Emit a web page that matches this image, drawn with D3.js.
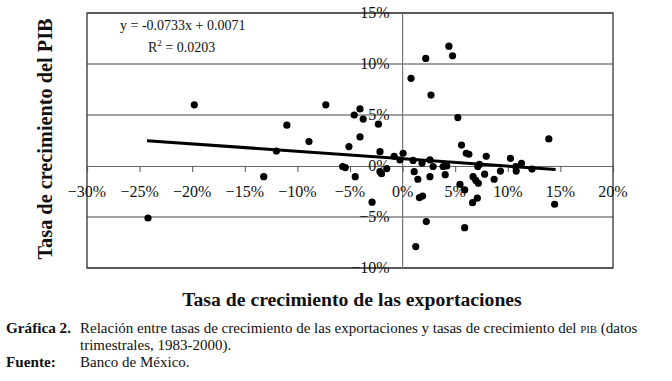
<!DOCTYPE html>
<html>
<head>
<meta charset="utf-8">
<script src="https://cdn.jsdelivr.net/npm/d3@7"></script>
<style>
body{margin:0;background:#fff;}
svg text{font-family:"Liberation Serif","Times New Roman",serif;fill:#111;}
</style>
</head>
<body>
<div id="chart"></div>
<script>
// quarterly growth rates (fractions)
var exportGrowth = [-0.242,-0.198,-0.132,-0.120,-0.110,-0.089,-0.073,-0.057,-0.0545,-0.051,
	-0.046,-0.045,-0.0405,-0.0405,-0.0375,-0.029,-0.023,-0.0215,-0.0215,-0.020,
	-0.015,-0.008,-0.0025,0.0005,0.008,0.010,0.011,0.0125,0.0145,0.016,
	0.0185,0.019,0.022,0.0225,0.026,0.026,0.027,0.029,0.0385,0.0405,
	0.042,0.044,0.0475,0.0525,0.0545,0.056,0.059,0.059,0.0605,0.063,
	0.0665,0.067,0.0695,0.071,0.0715,0.072,0.073,0.078,0.0795,0.087,
	0.093,0.1025,0.1075,0.108,0.113,0.123,0.139,0.1445]
var gdpGrowth = [-0.051,0.060,-0.0105,0.0147,0.040,0.024,0.060,-0.0005,-0.0015,0.019,
	0.050,-0.0105,0.056,0.0285,0.046,-0.0355,0.041,0.014,-0.0056,-0.0075,
	-0.0025,0.0095,0.006,0.0125,0.086,0.0055,-0.0056,-0.079,-0.013,-0.031,
	0.003,-0.0295,0.1055,-0.0545,0.006,-0.0105,0.0695,-0.0005,-0.0005,-0.0085,
	0.000,0.1175,0.108,0.0475,-0.018,0.0205,-0.0235,-0.0605,0.0125,0.0115,
	-0.036,-0.0105,-0.014,-0.0315,-0.0005,-0.017,0.0015,-0.008,0.0095,-0.013,
	-0.005,0.0075,-0.0005,-0.005,0.0025,-0.003,0.0265,-0.0375]

var xTicks = [-0.30,-0.25,-0.20,-0.15,-0.10,-0.05,0,0.05,0.10,0.15,0.20]
var yTicks = [-0.10,-0.05,0,0.05,0.10,0.15]

// linear trend printed on the chart
var trendSlope = -0.0733
var trendIntercept = 0.0071
var trendLabels = ["y = -0.0733x + 0.0071","0.0203"]

var captionLines = ["Relación entre tasas de crecimiento de las exportaciones y tasas de crecimiento del ", "trimestrales, 1983-2000).", "Banco de México."]

var width = 672,
	height = 381;

var xScale = d3.scaleLinear()
				.domain([-0.30,0.20])
				.range([87,613])

var yScale = d3.scaleLinear()
				.domain([-0.10,0.15])
				.range([268,13])

var pct = d3.format(".0%")

var svg = d3.select("#chart").append("svg")
			.attr("width",width)
			.attr("height",height)

// horizontal gridlines
svg.selectAll(".grid")
	.data(yTicks.filter(function(d){return d != 0}))
	.enter().append("line")
	.attr("x1",xScale(-0.30))
	.attr("x2",xScale(0.20))
	.attr("y1",function(d){return yScale(d)})
	.attr("y2",function(d){return yScale(d)})
	.attr("stroke","#444")
	.attr("stroke-width",1)

// plot frame
svg.append("rect")
	.attr("x",xScale(-0.30))
	.attr("y",yScale(0.15))
	.attr("width",xScale(0.20)-xScale(-0.30))
	.attr("height",yScale(-0.10)-yScale(0.15))
	.attr("fill","none")
	.attr("stroke","#333")
	.attr("stroke-width",1.3)

// axes crossing at zero
svg.append("line")
	.attr("x1",xScale(0)).attr("x2",xScale(0))
	.attr("y1",yScale(0.15)).attr("y2",yScale(-0.10))
	.attr("stroke","#777")
	.attr("stroke-width",1.2)

var xAxis = d3.axisBottom(xScale)
	.tickValues(xTicks)
	.tickSize(6)
	.tickFormat("")

svg.append("g")
	.attr("transform","translate(0,"+yScale(0)+")")
	.call(xAxis)
	.call(function(g){
		g.select(".domain").attr("stroke","#666").attr("stroke-width",1.2)
		g.selectAll(".tick line").attr("stroke","#555")
	})

svg.selectAll(".xlab")
	.data(xTicks)
	.enter().append("text")
	.attr("x",function(d){return xScale(d)})
	.attr("y",yScale(0)+31)
	.attr("text-anchor","middle")
	.attr("font-size",16)
	.text(function(d){return pct(d)})

svg.selectAll(".ylab")
	.data(yTicks)
	.enter().append("text")
	.attr("x",xScale(0)-13)
	.attr("y",function(d){return yScale(d)+5})
	.attr("text-anchor","end")
	.attr("font-size",16)
	.text(function(d){return pct(d)})

// trend line over the data range
var xExt = d3.extent(exportGrowth)
svg.append("line")
	.attr("x1",xScale(xExt[0])-1)
	.attr("y1",yScale(trendSlope*xExt[0]+trendIntercept))
	.attr("x2",xScale(xExt[1])+1)
	.attr("y2",yScale(trendSlope*xExt[1]+trendIntercept))
	.attr("stroke","#000")
	.attr("stroke-width",3)

var points = exportGrowth.map(function(d,i){return {"x":d,"y":gdpGrowth[i]}})

svg.selectAll("circle")
	.data(points).enter()
	.append("circle")
	.attr("r",3.6)
	.attr("cx",function(d){return xScale(d["x"])})
	.attr("cy",function(d){return yScale(d["y"])})
	.attr("fill","#000")

// equation labels
svg.append("text")
	.attr("x",120).attr("y",30)
	.attr("font-size",14)
	.text(trendLabels[0])

var r2 = svg.append("text")
	.attr("x",148).attr("y",52)
	.attr("font-size",14)
r2.append("tspan").text("R")
r2.append("tspan").attr("dy",-6).attr("font-size",9).text("2")
r2.append("tspan").attr("dy",6).text(" = "+trendLabels[1])

// axis titles
svg.append("text")
	.attr("transform","translate(52,139) rotate(-90)")
	.attr("text-anchor","middle")
	.attr("font-size",20.3)
	.attr("font-weight","bold")
	.text("Tasa de crecimiento del PIB")

svg.append("text")
	.attr("x",352).attr("y",306)
	.attr("text-anchor","middle")
	.attr("font-size",19.7)
	.attr("font-weight","bold")
	.text("Tasa de crecimiento de las exportaciones")

// caption
svg.append("text")
	.attr("x",6).attr("y",333)
	.attr("font-size",15.2)
	.attr("font-weight","bold")
	.text("Gráfica 2.")

var cap = svg.append("text")
	.attr("x",80).attr("y",333)
	.attr("font-size",15)
cap.append("tspan").text(captionLines[0])
cap.append("tspan").attr("font-size",10.8).text("PIB")
cap.append("tspan").text(" (datos")

svg.append("text")
	.attr("x",80).attr("y",350)
	.attr("font-size",15)
	.text(captionLines[1])

svg.append("text")
	.attr("x",6).attr("y",367)
	.attr("font-size",15.2)
	.attr("font-weight","bold")
	.text("Fuente:")

svg.append("text")
	.attr("x",80).attr("y",367)
	.attr("font-size",15)
	.text(captionLines[2])
</script>
</body>
</html>
